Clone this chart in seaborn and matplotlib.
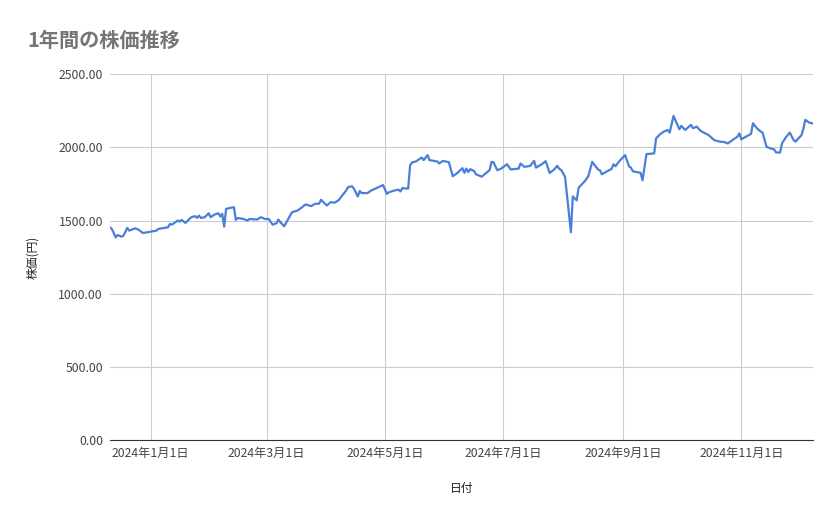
import pandas as pd
import matplotlib
matplotlib.use("Agg")
import matplotlib.pyplot as plt
import seaborn as sns

# 読み取った株価 (日付, 終値)
dates = [
    "2023-12-11", "2023-12-12", "2023-12-14", "2023-12-15", "2023-12-17", "2023-12-18",
    "2023-12-20", "2023-12-21", "2023-12-24", "2023-12-26", "2023-12-28", "2024-01-01",
    "2024-01-04", "2024-01-05", "2024-01-10", "2024-01-11", "2024-01-12", "2024-01-15",
    "2024-01-16", "2024-01-17", "2024-01-19", "2024-01-22", "2024-01-24", "2024-01-25",
    "2024-01-26", "2024-01-27", "2024-01-29", "2024-01-31", "2024-02-01", "2024-02-03",
    "2024-02-05", "2024-02-06", "2024-02-07", "2024-02-08", "2024-02-09", "2024-02-13",
    "2024-02-14", "2024-02-15", "2024-02-18", "2024-02-20", "2024-02-21", "2024-02-25",
    "2024-02-27", "2024-02-29", "2024-03-02", "2024-03-04", "2024-03-06", "2024-03-07",
    "2024-03-08", "2024-03-10", "2024-03-14", "2024-03-17", "2024-03-21", "2024-03-23",
    "2024-03-24", "2024-03-26", "2024-03-28", "2024-03-29", "2024-04-01", "2024-04-03",
    "2024-04-05", "2024-04-07", "2024-04-09", "2024-04-11",
    "2024-04-12", "2024-04-14", "2024-04-15", "2024-04-17", "2024-04-18", "2024-04-19",
    "2024-04-22", "2024-04-24", "2024-04-26", "2024-04-30", "2024-05-02", "2024-05-03",
    "2024-05-06", "2024-05-08", "2024-05-09", "2024-05-10", "2024-05-11", "2024-05-13",
    "2024-05-14", "2024-05-15", "2024-05-17", "2024-05-20", "2024-05-21", "2024-05-23",
    "2024-05-24", "2024-05-28", "2024-05-29", "2024-05-31", "2024-06-03", "2024-06-05",
    "2024-06-07", "2024-06-10", "2024-06-11", "2024-06-12", "2024-06-13", "2024-06-14",
    "2024-06-16", "2024-06-17", "2024-06-20", "2024-06-21", "2024-06-24", "2024-06-25",
    "2024-06-26", "2024-06-28", "2024-06-30", "2024-07-03", "2024-07-05", "2024-07-06",
    "2024-07-09", "2024-07-10", "2024-07-12", "2024-07-15", "2024-07-17", "2024-07-18",
    "2024-07-21", "2024-07-23", "2024-07-25", "2024-07-27", "2024-07-29", "2024-07-30",
    "2024-07-31", "2024-08-02", "2024-08-05",
    "2024-08-06", "2024-08-08", "2024-08-09", "2024-08-12", "2024-08-14", "2024-08-16",
    "2024-08-18", "2024-08-19", "2024-08-20", "2024-08-21", "2024-08-23", "2024-08-26",
    "2024-08-27", "2024-08-28", "2024-08-30", "2024-09-02", "2024-09-04", "2024-09-05",
    "2024-09-06", "2024-09-10", "2024-09-11", "2024-09-13", "2024-09-17", "2024-09-18",
    "2024-09-20", "2024-09-22", "2024-09-24", "2024-09-25", "2024-09-27", "2024-09-30",
    "2024-10-01", "2024-10-03", "2024-10-06", "2024-10-07", "2024-10-09", "2024-10-11",
    "2024-10-15", "2024-10-18", "2024-10-21", "2024-10-23", "2024-10-25", "2024-10-27",
    "2024-10-30", "2024-10-31", "2024-11-01", "2024-11-04", "2024-11-06", "2024-11-07",
    "2024-11-09", "2024-11-11", "2024-11-12", "2024-11-14", "2024-11-16", "2024-11-18",
    "2024-11-19", "2024-11-21", "2024-11-22", "2024-11-24", "2024-11-26", "2024-11-28",
    "2024-11-29", "2024-11-30", "2024-12-02", "2024-12-03", "2024-12-04", "2024-12-06",
    "2024-12-08",
]
prices = [
    1454, 1443, 1385, 1401, 1390, 1397, 1450, 1431, 1447, 1436, 1415, 1424,
    1431, 1443, 1454, 1477, 1472, 1500, 1493, 1505, 1484, 1523, 1530, 1518,
    1534, 1518, 1523, 1550, 1523, 1541, 1550, 1528, 1546, 1459, 1580, 1592,
    1505, 1518, 1511, 1500, 1511, 1507, 1523, 1511, 1511, 1472, 1482, 1507,
    1489, 1461, 1557, 1569, 1610, 1603, 1599, 1615, 1615, 1642, 1603, 1626,
    1622, 1638, 1672, 1706,
    1729, 1734, 1718, 1665, 1702, 1688, 1688, 1706, 1718, 1743, 1683, 1693,
    1706, 1711, 1699, 1722, 1720, 1718, 1878, 1897, 1904, 1931, 1913, 1947,
    1913, 1904, 1890, 1908, 1899, 1803, 1821, 1858, 1826, 1855, 1832, 1851,
    1839, 1816, 1800, 1812, 1844, 1901, 1899, 1844, 1855, 1885, 1849, 1851,
    1855, 1890, 1867, 1874, 1908, 1862, 1885, 1906, 1826, 1844, 1874, 1853,
    1846, 1798, 1420,
    1665, 1638, 1725, 1766, 1803, 1901, 1867, 1849, 1844, 1816, 1832, 1853,
    1885, 1871, 1906, 1947, 1871, 1862, 1837, 1826, 1775, 1954, 1959, 2062,
    2089, 2108, 2119, 2101, 2215, 2124, 2147, 2119, 2154, 2131, 2142, 2112,
    2085, 2050, 2039, 2037, 2027, 2046, 2073, 2096, 2055, 2078, 2092, 2165,
    2131, 2108, 2101, 2004, 1993, 1986, 1965, 1965, 2027, 2069, 2101, 2050,
    2039, 2055, 2082, 2124, 2188, 2170, 2163,
]
tick_dates = ["2024-01-01", "2024-03-01", "2024-05-01", "2024-07-01", "2024-09-01", "2024-11-01"]
tick_labels = ["2024年1月1日", "2024年3月1日", "2024年5月1日", "2024年7月1日", "2024年9月1日", "2024年11月1日"]
y_ticks = [0, 500, 1000, 1500, 2000, 2500]

df = pd.DataFrame({"日付": pd.to_datetime(dates), "株価": prices})

sns.set_style("white")
plt.rcParams['font.family'] = ['Noto Sans CJK JP', 'DejaVu Sans']

fig = plt.figure(figsize=(8.39, 5.19), dpi=100)
ax = fig.add_axes([0.131, 0.152, 0.838, 0.705])

sns.lineplot(data=df, x="日付", y="株価", ax=ax, color="#4a7fd8", linewidth=1.6)

ax.set_xlim(df["日付"].min(), df["日付"].max())
ax.set_ylim(0, 2500)
ax.set_yticks(y_ticks)
ax.set_yticklabels([f"{v:.2f}" for v in y_ticks])
ax.set_xticks(pd.to_datetime(tick_dates))
ax.set_xticklabels(tick_labels)
ax.grid(True, color="#cccccc", linewidth=0.8)
ax.tick_params(length=0, labelsize=8.8, colors="#444444", pad=5)
for side in ["top", "right", "left"]:
    ax.spines[side].set_visible(False)
ax.spines["bottom"].set_color("#333333")
ax.spines["bottom"].set_linewidth(0.8)

ax.set_xlabel("日付", fontsize=8.5, color="#222222", labelpad=16)
ax.set_ylabel("株価(円)", fontsize=8.5, color="#222222", labelpad=14)
fig.text(0.033, 0.91, "1年間の株価推移", fontsize=14.5, fontweight="bold", color="#757575")

fig.savefig("out.png", dpi=100)
